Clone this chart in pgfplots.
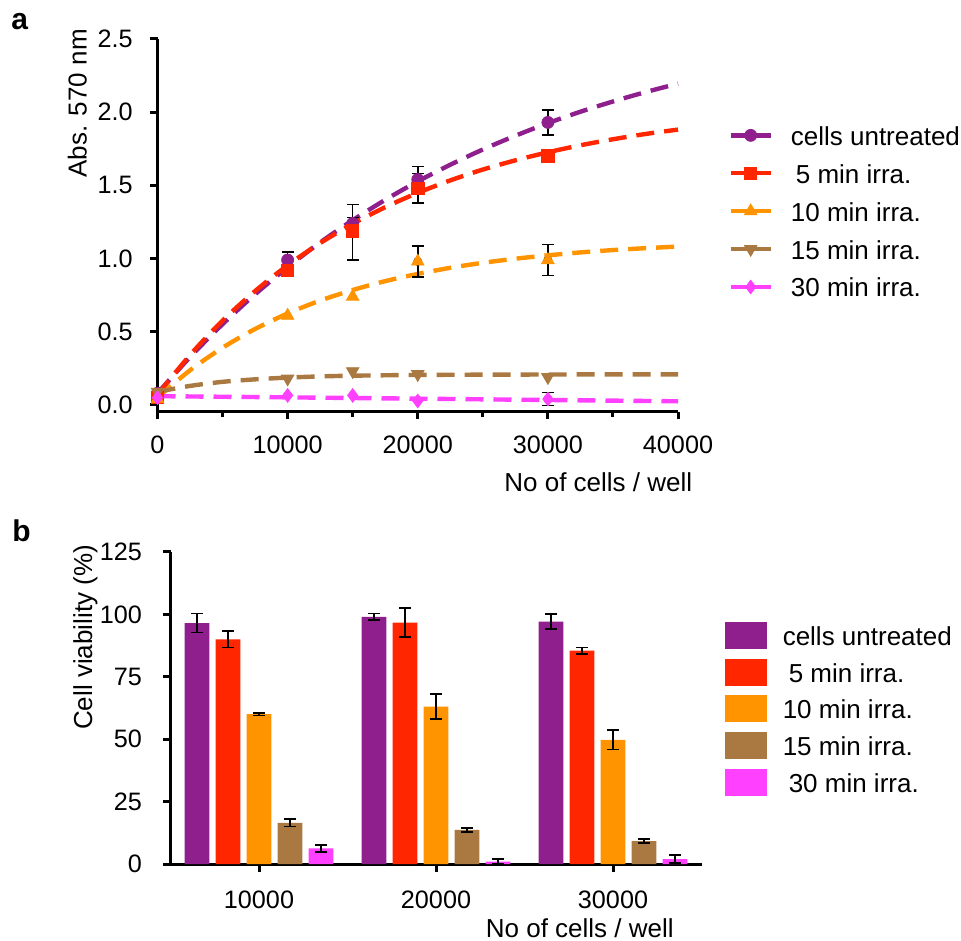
\documentclass[border=0pt]{standalone}
\usepackage{pgfplots}
\pgfplotsset{compat=1.18}
\usepackage{fontspec}
\setmainfont{Liberation Sans}
\definecolor{cpur}{RGB}{142,31,140}
\definecolor{cred}{RGB}{255,38,0}
\definecolor{cora}{RGB}{255,147,0}
\definecolor{cbro}{RGB}{170,121,66}
\definecolor{cmag}{RGB}{255,64,255}
\pgfplotsset{
  base/.style={
    scale only axis, clip=false,
    axis x line*=bottom, axis y line*=left,
    axis line style={-, line width=1.5pt, black},
    tick style={line width=1.5pt, black},
    tick align=outside,
    major tick length=3.75pt, minor tick length=2.5pt,
    tick label style={font=\fontsize{12.6}{15}\selectfont},
    /pgf/number format/assume math mode=true,
    /pgf/number format/set thousands separator={},
    legend cell align=left,
  },
  curve/.style={line width=2.2pt, dash pattern=on 9pt off 5pt, forget plot, smooth},
  ebar/.style={black, only marks, mark=none, forget plot, error bars/.cd, y dir=both, y explicit, error mark=|,
    error bar style={line width=0.8pt, solid, draw=black}, error mark options={line width=0.8pt, draw=black, mark size=3pt}},
  lineleg/.style={legend image code/.code={\draw[solid, line width=2.2pt] (0pt,0pt) -- (20pt,0pt); \draw[solid] plot coordinates {(10pt,0pt)};}},
  barleg/.style={legend image code/.code={\fill (0pt,-6.75pt) rectangle (21pt,6.75pt);}},
  bareb/.style={error bars/.cd, y dir=both, y explicit, error mark=|,
    error bar style={line width=0.8pt, solid, draw=black}, error mark options={line width=0.8pt, draw=black, mark size=2.9pt}},
}
\begin{document}
\begin{tikzpicture}
\useasboundingbox (0pt,0pt) rectangle (480.5pt,470pt);
\begin{axis}[base, at={(78.75pt,264pt)}, anchor=south west, width=260.25pt, height=186.5pt,
  xmin=0, xmax=40000, ymin=-0.048, ymax=2.5,
  xtick={0,10000,20000,30000,40000}, minor xtick={5000,15000,25000,35000},
  ytick={0,0.5,1,1.5,2,2.5},
  scaled x ticks=false,
  yticklabel style={/pgf/number format/fixed, /pgf/number format/fixed zerofill, /pgf/number format/precision=1, inner sep=0pt, xshift=-8.5pt},
  xticklabel style={inner sep=0pt, yshift=-8pt},
  legend style={draw=none, fill=none, at={(1.0962,0.7802)}, anchor=north west, inner sep=0pt, row sep=4.95pt, column sep=9pt,
    font=\fontsize{13}{15}\selectfont, nodes={inner sep=0pt, text height=12pt, text depth=2pt}},
]
% cells untreated
\addplot[cpur, curve] coordinates {(0,0.08)(2500,0.327)(5000,0.552)(7500,0.756)(10000,0.941)(12500,1.110)(15000,1.262)(17500,1.401)(20000,1.527)(22500,1.641)(25000,1.745)(27500,1.839)(30000,1.925)(32500,2.003)(35000,2.073)(37500,2.137)(40000,2.195)};
% 5 min
\addplot[cred, curve] coordinates {(0,0.07)(2500,0.341)(5000,0.576)(7500,0.778)(10000,0.954)(12500,1.106)(15000,1.237)(17500,1.351)(20000,1.449)(22500,1.534)(25000,1.608)(27500,1.671)(30000,1.726)(32500,1.774)(35000,1.815)(37500,1.851)(40000,1.881)};
% 10 min
\addplot[cora, curve] coordinates {(0,0.05)(2500,0.237)(5000,0.391)(7500,0.519)(10000,0.625)(12500,0.713)(15000,0.785)(17500,0.846)(20000,0.895)(22500,0.937)(25000,0.971)(27500,0.999)(30000,1.022)(32500,1.042)(35000,1.058)(37500,1.071)(40000,1.082)};
% 15 min
\addplot[cbro, curve] coordinates {(0,0.09)(2500,0.13)(5000,0.158)(7500,0.175)(10000,0.187)(12500,0.195)(15000,0.200)(20000,0.205)(25000,0.207)(30000,0.208)(35000,0.209)(40000,0.209)};
% 30 min
\addplot[cmag, curve] coordinates {(0,0.06)(10000,0.052)(20000,0.043)(30000,0.034)(40000,0.025)};
% error bars
\addplot[ebar] coordinates {(10000,0.99) +- (0,0.055) (15000,1.24) +- (0,0.04) (20000,1.54) +- (0,0.09) (30000,1.93) +- (0,0.085)};
\addplot[ebar] coordinates {(10000,0.92) +- (0,0.04) (15000,1.18) +- (0,0.19) (20000,1.48) +- (0,0.1) (30000,1.70) +- (0,0.02)};
\addplot[ebar] coordinates {(20000,0.98) +- (0,0.107) (30000,0.99) +- (0,0.105)};
\addplot[ebar] coordinates {(30000,0.04) +- (0,0.045)};
% markers
\addplot[cpur, only marks, mark=*, mark size=3pt, lineleg] coordinates {(0,0.08)(10000,0.99)(15000,1.24)(20000,1.54)(30000,1.93)};
\addlegendentry{cells untreated}
\addplot[cred, only marks, mark=square*, mark size=3.1pt, lineleg] coordinates {(0,0.05)(10000,0.92)(15000,1.19)(20000,1.48)(30000,1.70)};
\addlegendentry{\hspace{2.5pt}5 min irra.}
\addplot[cora, only marks, mark=triangle*, mark size=3.6pt, lineleg] coordinates {(0,0.04)(10000,0.61)(15000,0.74)(20000,0.98)(30000,0.99)};
\addlegendentry{10 min irra.}
\addplot[cbro, only marks, mark=triangle*, mark size=3.6pt, mark options={rotate=180}, lineleg] coordinates {(0,0.09)(10000,0.18)(15000,0.23)(20000,0.21)(30000,0.19)};
\addlegendentry{15 min irra.}
\addplot[cmag, only marks, mark=diamond*, mark size=3.4pt, lineleg] coordinates {(0,0.05)(10000,0.065)(15000,0.065)(20000,0.027)(30000,0.04)};
\addlegendentry{30 min irra.}
\end{axis}

\begin{axis}[base, at={(85.25pt,38pt)}, anchor=south west, width=265.5pt, height=156pt,
  xmin=-0.5, xmax=2.5, ymin=0, ymax=125,
  xtick={0,1,2}, xticklabels={10000,20000,30000},
  ytick={0,25,50,75,100,125},
  ybar=3.05pt, bar width=12.45pt,
  yticklabel style={inner sep=0pt, xshift=-10.3pt},
  xticklabel style={inner sep=0pt, yshift=-9.5pt},
  legend style={draw=none, fill=none, at={(1.0438,0.7788)}, anchor=north west, inner sep=0pt, row sep=4.35pt, column sep=7.8pt,
    font=\fontsize{13}{15}\selectfont, nodes={inner sep=0pt, text height=12pt, text depth=2pt}},
]
\addplot[fill=cpur, draw=none, barleg, bareb] coordinates {(0,96.5) +- (0,3.8) (1,99) +- (0,1.3) (2,97.1) +- (0,3)};
\addlegendentry{cells untreated}
\addplot[fill=cred, draw=none, barleg, bareb] coordinates {(0,90) +- (0,3.3) (1,96.7) +- (0,5.8) (2,85.5) +- (0,1.3)};
\addlegendentry{\hspace{3pt}5 min irra.}
\addplot[fill=cora, draw=none, barleg, bareb] coordinates {(0,60) +- (0,0.5) (1,63) +- (0,5) (2,49.7) +- (0,3.9)};
\addlegendentry{10 min irra.}
\addplot[fill=cbro, draw=none, barleg, bareb] coordinates {(0,16.5) +- (0,1.5) (1,13.7) +- (0,0.8) (2,9.2) +- (0,0.7)};
\addlegendentry{15 min irra.}
\addplot[fill=cmag, draw=none, barleg, bareb] coordinates {(0,6.3) +- (0,1.4) (1,1) +- (0,1) (2,2) +- (0,1.5)};
\addlegendentry{\hspace{3pt}30 min irra.}
\end{axis}

\node[anchor=base west, inner sep=0pt, font=\bfseries\fontsize{15}{18}\selectfont] at (5.5pt,455pt) {a};
\node[anchor=base west, inner sep=0pt, font=\bfseries\fontsize{15}{18}\selectfont] at (6pt,199.15pt) {b};
\node[rotate=90, anchor=base, inner sep=0pt, font=\fontsize{13}{15}\selectfont] at (43.35pt,418.25pt) {Abs. 570 nm};
\node[rotate=90, anchor=base, inner sep=0pt, font=\fontsize{13}{15}\selectfont] at (46pt,151.25pt) {Cell viability (\%)};
\node[anchor=base, inner sep=0pt, font=\fontsize{13}{15}\selectfont] at (299.15pt,224.15pt) {No of cells / well};
\node[anchor=base, inner sep=0pt, font=\fontsize{13}{15}\selectfont] at (289.9pt,1.5pt) {No of cells / well};
\end{tikzpicture}
\end{document}
